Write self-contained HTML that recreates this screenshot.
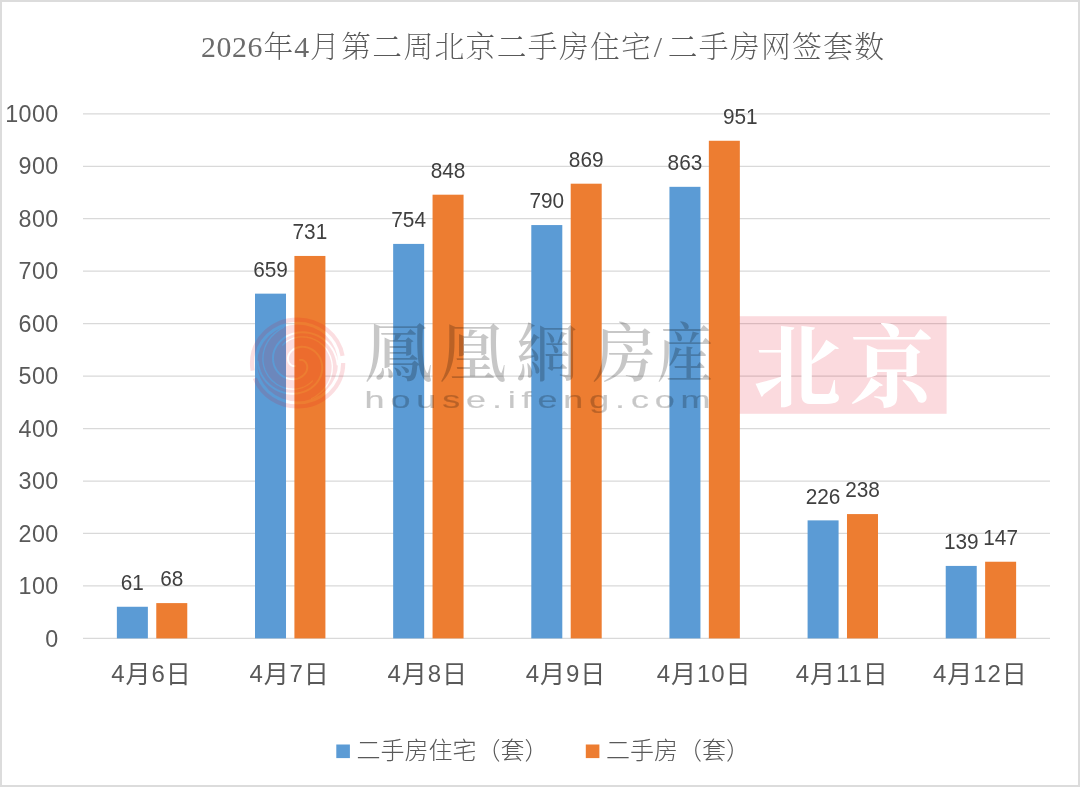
<!DOCTYPE html>
<html lang="zh-CN">
<head>
<meta charset="utf-8">
<title>2026年4月第二周北京二手房住宅/二手房网签套数</title>
<style>
html,body{margin:0;padding:0;background:#fff;}
body{width:1080px;height:787px;overflow:hidden;position:relative;}
#chart{position:absolute;left:0;top:0;width:1080px;height:787px;display:block;}
#frame{position:absolute;left:0;top:0;width:1080px;height:787px;box-sizing:border-box;border:2px solid #dcdcdc;border-bottom-width:2.5px;pointer-events:none;}
.axis{font-family:"Liberation Sans","Noto Sans CJK SC",sans-serif;font-size:23.3px;letter-spacing:0.4px;fill:#595959;}
.cat{font-family:"Liberation Sans","Noto Sans CJK SC",sans-serif;font-size:25px;letter-spacing:0.9px;fill:#595959;}
.lbl{font-family:"Liberation Sans","Noto Sans CJK SC",sans-serif;font-size:22px;fill:#404040;}
.leg{font-family:"Liberation Sans","Noto Sans CJK SC",sans-serif;font-size:24px;fill:#595959;font-weight:300;}
.title{font-family:"Liberation Serif","Noto Serif CJK SC",serif;font-size:29.8px;fill:#595959;font-weight:200;}
.wmg{font-family:"Liberation Serif","Noto Serif CJK SC",serif;font-size:64px;font-weight:500;}
.wmurl{font-family:"Liberation Sans",sans-serif;font-size:23.5px;fill:#000;stroke:#000;stroke-width:0.2px;}
.wmcity{font-family:"Liberation Serif","Noto Serif CJK SC",serif;font-size:89px;font-weight:700;fill:#ffffff;}
.cat .dg{font-size:24px;}
.title .tl{fill:#6b6b6b;}
</style>
</head>
<body>
<svg id="chart" width="1080" height="787" viewBox="0 0 1080 787">
<rect x="0" y="0" width="1080" height="787" fill="#ffffff"/>
<text class="title" text-anchor="middle" y="57.4" x="208.38 223.93 239.48 255.03 278.35 301.68 325.00 356.10 387.20 418.30 449.40 480.50 511.60 542.70 573.80 604.90 636.00 657.83 682.65 713.75 744.85 775.95 807.05 838.15 869.25"><tspan class="tl">2026</tspan>年<tspan class="tl">4</tspan>月第二周北京二手房住宅<tspan class="tl">/</tspan>二手房网签套数</text>
<g stroke="#d9d9d9" stroke-width="1.25">
<line x1="83.0" y1="113.80" x2="1050.0" y2="113.80"/>
<line x1="83.0" y1="166.26" x2="1050.0" y2="166.26"/>
<line x1="83.0" y1="218.72" x2="1050.0" y2="218.72"/>
<line x1="83.0" y1="271.18" x2="1050.0" y2="271.18"/>
<line x1="83.0" y1="323.64" x2="1050.0" y2="323.64"/>
<line x1="83.0" y1="376.10" x2="1050.0" y2="376.10"/>
<line x1="83.0" y1="428.56" x2="1050.0" y2="428.56"/>
<line x1="83.0" y1="481.02" x2="1050.0" y2="481.02"/>
<line x1="83.0" y1="533.48" x2="1050.0" y2="533.48"/>
<line x1="83.0" y1="585.94" x2="1050.0" y2="585.94"/>
<line x1="83.0" y1="638.40" x2="1050.0" y2="638.40"/>
</g>
<g class="axis" text-anchor="end">
<text x="58.7" y="122.00">1000</text>
<text x="58.7" y="174.46">900</text>
<text x="58.7" y="226.92">800</text>
<text x="58.7" y="279.38">700</text>
<text x="58.7" y="331.84">600</text>
<text x="58.7" y="384.30">500</text>
<text x="58.7" y="436.76">400</text>
<text x="58.7" y="489.22">300</text>
<text x="58.7" y="541.68">200</text>
<text x="58.7" y="594.14">100</text>
<text x="58.7" y="646.60">0</text>
</g>
<g>
<rect x="116.87" y="606.76" width="31.0" height="31.64" fill="#5b9bd5"/>
<rect x="156.27" y="603.10" width="31.0" height="35.30" fill="#ed7d31"/>
<rect x="255.01" y="293.65" width="31.0" height="344.75" fill="#5b9bd5"/>
<rect x="294.41" y="255.95" width="31.0" height="382.45" fill="#ed7d31"/>
<rect x="393.16" y="243.91" width="31.0" height="394.49" fill="#5b9bd5"/>
<rect x="432.56" y="194.69" width="31.0" height="443.71" fill="#ed7d31"/>
<rect x="531.30" y="225.06" width="31.0" height="413.34" fill="#5b9bd5"/>
<rect x="570.70" y="183.69" width="31.0" height="454.71" fill="#ed7d31"/>
<rect x="669.44" y="186.83" width="31.0" height="451.57" fill="#5b9bd5"/>
<rect x="708.84" y="140.76" width="31.0" height="497.64" fill="#ed7d31"/>
<rect x="807.59" y="520.37" width="31.0" height="118.03" fill="#5b9bd5"/>
<rect x="846.99" y="514.08" width="31.0" height="124.32" fill="#ed7d31"/>
<rect x="945.73" y="565.92" width="31.0" height="72.48" fill="#5b9bd5"/>
<rect x="985.13" y="561.73" width="31.0" height="76.67" fill="#ed7d31"/>
</g>
<g class="lbl" text-anchor="middle">
<text x="132.37" y="589.96" textLength="23.1" lengthAdjust="spacingAndGlyphs">61</text>
<text x="171.77" y="586.30" textLength="23.1" lengthAdjust="spacingAndGlyphs">68</text>
<text x="270.51" y="276.85" textLength="34.7" lengthAdjust="spacingAndGlyphs">659</text>
<text x="309.91" y="239.15" textLength="34.7" lengthAdjust="spacingAndGlyphs">731</text>
<text x="408.66" y="227.11" textLength="34.7" lengthAdjust="spacingAndGlyphs">754</text>
<text x="448.06" y="177.89" textLength="34.7" lengthAdjust="spacingAndGlyphs">848</text>
<text x="546.80" y="208.26" textLength="34.7" lengthAdjust="spacingAndGlyphs">790</text>
<text x="586.20" y="166.89" textLength="34.7" lengthAdjust="spacingAndGlyphs">869</text>
<text x="684.94" y="170.03" textLength="34.7" lengthAdjust="spacingAndGlyphs">863</text>
<text x="740.34" y="123.96" textLength="34.7" lengthAdjust="spacingAndGlyphs">951</text>
<text x="823.09" y="503.57" textLength="34.7" lengthAdjust="spacingAndGlyphs">226</text>
<text x="862.49" y="497.28" textLength="34.7" lengthAdjust="spacingAndGlyphs">238</text>
<text x="961.23" y="549.12" textLength="34.7" lengthAdjust="spacingAndGlyphs">139</text>
<text x="1000.63" y="544.93" textLength="34.7" lengthAdjust="spacingAndGlyphs">147</text>
</g>
<g class="cat" text-anchor="middle">
<text x="151.47" y="683"><tspan class="dg" dy="-1.4">4</tspan><tspan dy="1.4">月</tspan><tspan class="dg" dy="-1.4">6</tspan><tspan dy="1.4">日</tspan></text>
<text x="289.61" y="683"><tspan class="dg" dy="-1.4">4</tspan><tspan dy="1.4">月</tspan><tspan class="dg" dy="-1.4">7</tspan><tspan dy="1.4">日</tspan></text>
<text x="427.76" y="683"><tspan class="dg" dy="-1.4">4</tspan><tspan dy="1.4">月</tspan><tspan class="dg" dy="-1.4">8</tspan><tspan dy="1.4">日</tspan></text>
<text x="565.90" y="683"><tspan class="dg" dy="-1.4">4</tspan><tspan dy="1.4">月</tspan><tspan class="dg" dy="-1.4">9</tspan><tspan dy="1.4">日</tspan></text>
<text x="704.04" y="683"><tspan class="dg" dy="-1.4">4</tspan><tspan dy="1.4">月</tspan><tspan class="dg" dy="-1.4">10</tspan><tspan dy="1.4">日</tspan></text>
<text x="842.19" y="683"><tspan class="dg" dy="-1.4">4</tspan><tspan dy="1.4">月</tspan><tspan class="dg" dy="-1.4">11</tspan><tspan dy="1.4">日</tspan></text>
<text x="980.33" y="683"><tspan class="dg" dy="-1.4">4</tspan><tspan dy="1.4">月</tspan><tspan class="dg" dy="-1.4">12</tspan><tspan dy="1.4">日</tspan></text>
</g>
<rect x="336.3" y="744.5" width="13.6" height="13.6" fill="#5b9bd5"/>
<text class="leg" x="356.5" y="758.6">二手房住宅（套）</text>
<rect x="585.8" y="744.5" width="13.6" height="13.6" fill="#ed7d31"/>
<text class="leg" x="606" y="758.6">二手房（套）</text>
<defs>
<mask id="swirl" maskUnits="userSpaceOnUse" x="240" y="305" width="120" height="120">
<ellipse cx="297.6" cy="363.0" rx="40.5" ry="38.5" fill="#fff"/>
<g fill="none" stroke="#000" stroke-linecap="round">
<path d="M300.1 360.0 L300.7 359.9 L301.3 359.9 L301.9 360.0 L302.6 360.2 L303.2 360.4 L303.9 360.8 L304.5 361.2 L305.1 361.7 L305.6 362.3 L306.1 363.0 L306.5 363.8 L306.8 364.6 L307.1 365.5 L307.2 366.5 L307.3 367.5 L307.2 368.5 L307.0 369.6 L306.7 370.6 L306.2 371.7 L305.6 372.7 L304.9 373.7 L304.1 374.7 L303.1 375.6 L302.0 376.4 L300.8 377.2 L299.5 377.8 L298.1 378.3 L296.6 378.7 L295.1 379.0 L293.5 379.2 L291.8 379.1 L290.1 379.0 L288.4 378.6 L286.7 378.1 L285.0 377.5 L283.4 376.6 L281.8 375.6 L280.3 374.5 L278.9 373.2 L277.6 371.7 L276.4 370.1 L275.4 368.3 L274.5 366.5 L273.9 364.5 L273.4 362.5 L273.1 360.4 L273.0 358.2 L273.1 356.0 L273.4 353.7 L274.0 351.5 L274.8 349.3 L275.9 347.1 L277.1 345.1 L278.6 343.1 L280.3 341.2 L282.2 339.4 L284.3 337.8 L286.6 336.4 L289.1 335.1 L291.6 334.1 L294.4 333.3 L297.2 332.7 L300.1 332.4 L303.1 332.3 L306.1 332.5 L309.1 332.9 L312.1 333.6 L315.1 334.6 L318.0 335.9 L320.7 337.4 L323.4 339.2 L325.9 341.3 L328.2 343.5 L330.3 346.0 L332.2 348.7 L333.9 351.6 L335.2 354.7 L336.3 357.9 L337.1 361.2 L337.6 364.6" stroke-width="1.9"/>
<path d="M295.1 366.0 L294.5 366.1 L293.9 366.1 L293.3 366.0 L292.6 365.8 L292.0 365.6 L291.3 365.2 L290.7 364.8 L290.1 364.3 L289.6 363.7 L289.1 363.0 L288.7 362.2 L288.4 361.4 L288.1 360.5 L288.0 359.5 L287.9 358.5 L288.0 357.5 L288.2 356.4 L288.5 355.4 L289.0 354.3 L289.6 353.3 L290.3 352.3 L291.1 351.3 L292.1 350.4 L293.2 349.6 L294.4 348.8 L295.7 348.2 L297.1 347.7 L298.6 347.3 L300.1 347.0 L301.7 346.8 L303.4 346.9 L305.1 347.0 L306.8 347.4 L308.5 347.9 L310.2 348.5 L311.8 349.4 L313.4 350.4 L314.9 351.5 L316.3 352.8 L317.6 354.3 L318.8 355.9 L319.8 357.7 L320.7 359.5 L321.3 361.5 L321.8 363.5 L322.1 365.6 L322.2 367.8 L322.1 370.0 L321.8 372.3 L321.2 374.5 L320.4 376.7 L319.3 378.9 L318.1 380.9 L316.6 382.9 L314.9 384.8 L313.0 386.6 L310.9 388.2 L308.6 389.6 L306.1 390.9 L303.6 391.9 L300.8 392.7 L298.0 393.3 L295.1 393.6 L292.1 393.7 L289.1 393.5 L286.1 393.1 L283.1 392.4 L280.1 391.4 L277.2 390.1 L274.5 388.6 L271.8 386.8 L269.3 384.7 L267.0 382.5 L264.9 380.0 L263.0 377.3 L261.3 374.4 L260.0 371.3 L258.9 368.1 L258.1 364.8 L257.6 361.4" stroke-width="1.9"/>
<path d="M312.5 380.9 L311.8 381.6 L311.1 382.3 L310.3 383.0 L309.4 383.7 L308.6 384.3 L307.7 384.9 L306.7 385.5 L305.8 386.0 L304.8 386.5 L303.8 387.0 L302.7 387.4 L301.6 387.8 L300.5 388.1 L299.4 388.4 L298.2 388.6 L297.0 388.8 L295.9 389.0 L294.7 389.1 L293.4 389.1 L292.2 389.1 L291.0 389.0 L289.8 388.9 L288.5 388.8 L287.3 388.5 L286.1 388.3 L284.8 388.0 L283.6 387.6 L282.4 387.1 L281.2 386.7 L280.0 386.1 L278.9 385.5 L277.7 384.9 L276.6 384.2 L275.6 383.4 L274.5 382.6 L273.5 381.8 L272.5 380.9 L271.5 380.0 L270.6 379.0 L269.7 377.9 L268.9 376.9 L268.1 375.8 L267.4 374.6 L266.7 373.4 L266.1 372.2 L265.5 370.9 L264.9 369.7 L264.5 368.3 L264.1 367.0 L263.7 365.6 L263.4 364.3 L263.2 362.8 L263.0 361.4 L262.9 360.0 L262.9 358.6 L263.0 357.1 L263.1 355.6 L263.2 354.2 L263.5 352.7 L263.8 351.3 L264.2 349.8 L264.6 348.4 L265.1 346.9 L265.7 345.5 L266.4 344.1 L267.1 342.8 L267.9 341.4 L268.7 340.1 L269.7 338.8 L270.6 337.6 L271.7 336.3 L272.8 335.2 L274.0 334.0 L275.2 332.9 L276.5 331.9 L277.8 330.9 L279.2 329.9 L280.6 329.0 L282.1 328.2 L283.6 327.4" stroke-width="1.3"/>
<path d="M282.7 345.1 L283.4 344.4 L284.1 343.7 L284.9 343.0 L285.8 342.3 L286.6 341.7 L287.5 341.1 L288.5 340.5 L289.4 340.0 L290.4 339.5 L291.4 339.0 L292.5 338.6 L293.6 338.2 L294.7 337.9 L295.8 337.6 L297.0 337.4 L298.2 337.2 L299.3 337.0 L300.5 336.9 L301.8 336.9 L303.0 336.9 L304.2 337.0 L305.4 337.1 L306.7 337.2 L307.9 337.5 L309.1 337.7 L310.4 338.0 L311.6 338.4 L312.8 338.9 L314.0 339.3 L315.2 339.9 L316.3 340.5 L317.5 341.1 L318.6 341.8 L319.6 342.6 L320.7 343.4 L321.7 344.2 L322.7 345.1 L323.7 346.0 L324.6 347.0 L325.5 348.1 L326.3 349.1 L327.1 350.2 L327.8 351.4 L328.5 352.6 L329.1 353.8 L329.7 355.1 L330.3 356.3 L330.7 357.7 L331.1 359.0 L331.5 360.4 L331.8 361.7 L332.0 363.2 L332.2 364.6 L332.3 366.0 L332.3 367.4 L332.2 368.9 L332.1 370.4 L332.0 371.8 L331.7 373.3 L331.4 374.7 L331.0 376.2 L330.6 377.6 L330.1 379.1 L329.5 380.5 L328.8 381.9 L328.1 383.2 L327.3 384.6 L326.5 385.9 L325.5 387.2 L324.6 388.4 L323.5 389.7 L322.4 390.8 L321.2 392.0 L320.0 393.1 L318.7 394.1 L317.4 395.1 L316.0 396.1 L314.6 397.0 L313.1 397.8 L311.6 398.6" stroke-width="1.3"/>
</g>
</mask>
</defs>
<g id="watermark">
<g opacity="0.125">
<ellipse cx="297.6" cy="363.0" rx="45.6" ry="43.4" fill="none" stroke="#e6001a" stroke-width="4.2" stroke-dasharray="124 8 140 8"/>
<rect x="240" y="305" width="120" height="120" fill="#e6001a" mask="url(#swirl)"/>
</g>
<g class="wmcn" fill="#000" opacity="0.215">
<text class="wmg" transform="translate(364.05,376.3) scale(1.0779,1)" x="0" y="0">鳳</text>
<text class="wmg" transform="translate(439.03,376.3) scale(1.0591,1)" x="0" y="0">凰</text>
<text class="wmg" transform="translate(515.82,376.3) scale(0.9753,1)" x="0" y="0">網</text>
<text class="wmg" transform="translate(592.62,376.3) scale(0.9931,1)" x="0" y="0">房</text>
<text class="wmg" transform="translate(656.79,376.3) scale(0.8851,1)" x="0" y="0">産</text>
</g>
<g transform="translate(364.6,407.6) scale(1.530,1)" opacity="0.215"><text class="wmurl" x="0" y="0" textLength="226.1" lengthAdjust="spacing">house.ifeng.com</text></g>
<rect x="739.6" y="316.2" width="207" height="97.6" fill="#e6001a" opacity="0.145"/>
<text class="wmcity" transform="translate(753.13,399) scale(0.9863,1)" x="0" y="0">北</text>
<text class="wmcity" transform="translate(849.82,399) scale(0.9433,1)" x="0" y="0">京</text>
</g>
</svg>
<div id="frame"></div>
</body>
</html>
